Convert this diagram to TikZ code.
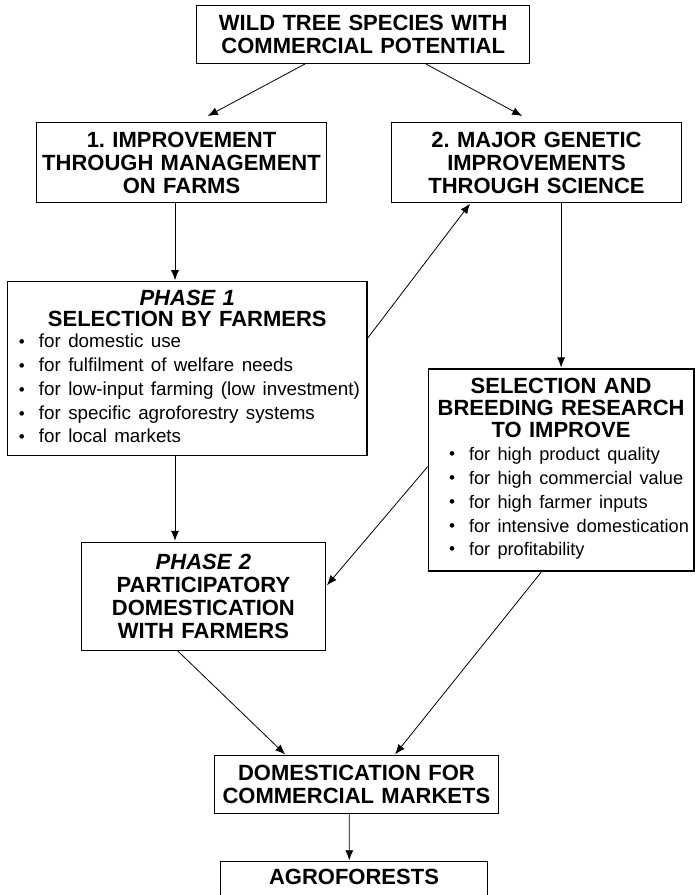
\documentclass[tikz,border=0pt]{standalone}
\usepackage{fontspec}
\setmainfont{Liberation Sans}
\usetikzlibrary{calc,arrows.meta}

\newcommand{\headfont}{\fontsize{22}{23}\selectfont\bfseries}
\newcommand{\listfont}{\fontsize{18.8}{24}\selectfont\mdseries\upshape}
\newcommand{\hd}[1]{\hfill{#1}\hfill\null}
\newcommand{\bul}{\raisebox{0.05ex}{\fontsize{17}{17}\selectfont\textbullet}}
\newcommand{\itm}[2]{\hspace*{#1}\makebox[20pt][l]{\bul}\mbox{#2}}
\frenchspacing

\begin{document}
\begin{tikzpicture}[x=1pt,y=-1pt,
	box/.style={draw,line width=1.1pt,inner sep=0pt,font=\headfont},
	arr/.style={-{Latex[length=10pt,width=8pt]},line width=0.8pt,shorten >=1pt}]
	\useasboundingbox (0,0) rectangle (695,895);
	% boxes
	\node[box,align=center,minimum width=333pt,minimum height=57.8pt,text width=325pt]
	(wild) at (363.2,34.4) {WILD TREE SPECIES WITH\\COMMERCIAL POTENTIAL};
	\node[box,align=center,minimum width=289.4pt,minimum height=79.6pt,text width=285pt]
	(imp) at (181.5,162.5) {1. IMPROVEMENT\\THROUGH MANAGEMENT\\ON FARMS};
	\node[box,align=center,minimum width=289.5pt,minimum height=79.6pt,text width=285pt]
	(gen) at (536.5,162.5) {2. MAJOR GENETIC\\IMPROVEMENTS\\THROUGH SCIENCE};
	\node[box,align=left,minimum width=359.5pt,minimum height=174pt,text width=349.5pt]
	(ph1) at (187.25,368.7) {\hd{\itshape PHASE 1}\\[-2pt]\hd{SELECTION BY FARMERS}\\[-2.4pt]\listfont
		\itm{6.5pt}{for domestic use}\\
		\itm{6.5pt}{for fulfilment of welfare needs}\\
		\itm{6.5pt}{for low-input farming (low investment)}\\
		\itm{6.5pt}{for specific agroforestry systems}\\
		\itm{6.5pt}{for local markets\rule[-5pt]{0pt}{0pt}}};
	\node[box,align=left,minimum width=265.8pt,minimum height=202pt,text width=263.8pt]
	(sel) at (561.1,470) {\hd{SELECTION AND}\\[-1pt]\hd{BREEDING RESEARCH}\\[-1pt]\hd{TO IMPROVE}\\[-1pt]
		\fontsize{18.2}{24}\selectfont\mdseries
		\itm{19.8pt}{for high product quality}\\
		\itm{19.8pt}{for high commercial value}\\
		\itm{19.8pt}{for high farmer inputs}\\
		\itm{19.8pt}{for intensive domestication}\\
		\itm{19.8pt}{for profitability\rule[-7pt]{0pt}{0pt}}};
	\node[box,align=center,minimum width=244.7pt,minimum height=107.7pt,text width=240pt]
	(ph2) at (203.4,596.2) {{\itshape PHASE 2}\\PARTICIPATORY\\DOMESTICATION\\WITH FARMERS};
	\node[box,align=center,minimum width=284.6pt,minimum height=57.6pt,text width=280pt]
	(dom) at (356.4,784.5) {DOMESTICATION FOR\\COMMERCIAL MARKETS};
	\node[box,anchor=north,minimum width=267.3pt,inner ysep=7.5pt,text depth=40pt]
	(agro) at (354,861.3) {AGROFORESTS};
	% arrows
	\coordinate (left) at (175,0);
	\draw[arr]
	([xshift=-58pt]wild.south) -- ([xshift=25.5pt,yshift=5.7pt]imp.north);
	\draw[arr]
	([xshift=62.5pt]wild.south) -- ([xshift=-13.5pt,yshift=5.7pt]gen.north);
	\draw[arr]
	(left |- imp.south) -- (left |- ph1.north);
	\draw[arr]
	([yshift=30.4pt]ph1.east) -- ([xshift=-65.8pt]gen.south);
	\draw[arr]
	(gen.south -| sel.north) -- (sel.north);
	\draw[arr]
	(left |- ph1.south) -- (left |- ph2.north);
	\draw[arr]
	([yshift=3.3pt]sel.west) -- ([yshift=10.2pt]ph2.east);
	\draw[arr]
	([xshift=-26pt]ph2.south) -- ([xshift=-70.5pt]dom.north);
	\draw[arr]
	([xshift=-19.4pt]sel.south) -- ([xshift=38.1pt]dom.north);
	\draw[arr]
	([xshift=-7.1pt]dom.south) -- ([xshift=-4.7pt]agro.north);
\end{tikzpicture}
\end{document}
